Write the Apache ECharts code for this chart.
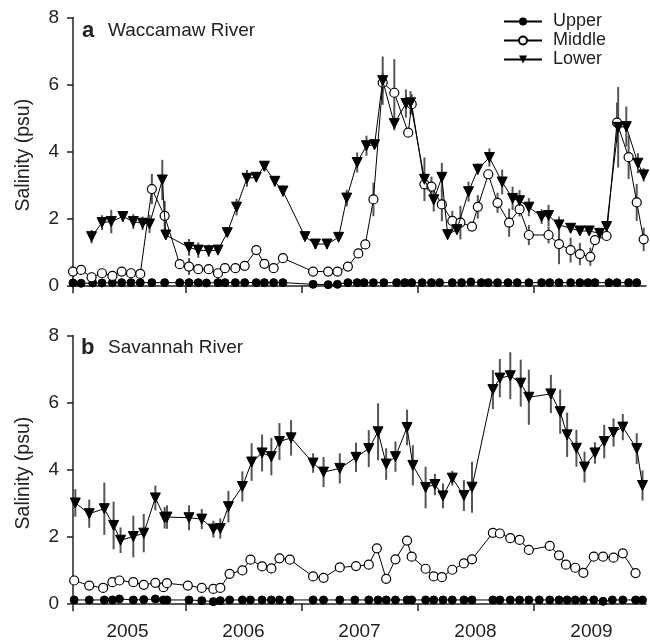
<!DOCTYPE html>
<html>
<head>
<meta charset="utf-8" />
<title>Salinity</title>
<script src="https://cdn.jsdelivr.net/npm/echarts@6/dist/echarts.min.js"></script>
<style>
  html, body { margin: 0; padding: 0; background: #fff; }
  #main { width: 650px; height: 642px; }
</style>
</head>
<body>
<div id="main"></div>
<script type="text/javascript">
// sampling dates as decimal years, salinity in psu, error = half bar length

// ---- a: Waccamaw River ----
var yrUpperA = [2005.03, 2005.10, 2005.20, 2005.28, 2005.37, 2005.45, 2005.53, 2005.61, 2005.71, 2005.82, 2005.95,
  2006.03, 2006.11, 2006.18, 2006.28, 2006.34, 2006.43, 2006.51, 2006.61, 2006.68, 2006.76, 2006.84,
  2007.10, 2007.23, 2007.31, 2007.40, 2007.48, 2007.54, 2007.62, 2007.71, 2007.82, 2007.89, 2007.95,
  2008.04, 2008.12, 2008.19, 2008.30, 2008.38, 2008.46, 2008.55, 2008.61, 2008.69, 2008.78, 2008.86, 2008.96,
  2009.07, 2009.14, 2009.22, 2009.32, 2009.40, 2009.47, 2009.53, 2009.65, 2009.72, 2009.82, 2009.89];
var upperA = [0.09, 0.08, 0.09, 0.09, 0.1, 0.1, 0.1, 0.1, 0.1, 0.1, 0.1,
  0.1, 0.1, 0.09, 0.1, 0.1, 0.1, 0.1, 0.1, 0.1, 0.1, 0.1,
  0.05, 0.04, 0.05, 0.1, 0.1, 0.1, 0.1, 0.1, 0.1, 0.1, 0.1,
  0.1, 0.1, 0.1, 0.1, 0.1, 0.12, 0.1, 0.1, 0.1, 0.1, 0.1, 0.1,
  0.1, 0.1, 0.1, 0.1, 0.1, 0.1, 0.1, 0.1, 0.1, 0.1, 0.1];

var yrMiddleA = [2005.03, 2005.10, 2005.19, 2005.28, 2005.37, 2005.45, 2005.53, 2005.61, 2005.71, 2005.82, 2005.95,
  2006.03, 2006.11, 2006.20, 2006.28, 2006.34, 2006.43, 2006.51, 2006.61, 2006.68, 2006.76, 2006.84,
  2007.10, 2007.23, 2007.31, 2007.40, 2007.49, 2007.55, 2007.62, 2007.70, 2007.80, 2007.92, 2007.95,
  2008.06, 2008.12, 2008.21, 2008.30, 2008.37, 2008.47, 2008.52, 2008.61, 2008.69, 2008.79, 2008.88, 2008.96,
  2009.13, 2009.22, 2009.32, 2009.40, 2009.49, 2009.53, 2009.63, 2009.72, 2009.82, 2009.89, 2009.95];
var middleA = [0.43, 0.48, 0.26, 0.38, 0.30, 0.43, 0.38, 0.36, 2.89, 2.09, 0.65,
  0.58, 0.50, 0.50, 0.38, 0.53, 0.53, 0.60, 1.07, 0.66, 0.53, 0.83,
  0.43, 0.43, 0.43, 0.58, 0.97, 1.24, 2.58, 6.06, 5.76, 4.57, 5.42,
  3.03, 2.96, 2.43, 1.94, 1.89, 1.77, 2.36, 3.33, 2.48, 1.89, 2.29, 1.52,
  1.52, 1.25, 1.07, 0.95, 0.87, 1.37, 1.49, 4.87, 3.84, 2.49, 1.39];
var errMiddleA = [0.05, 0.05, 0.05, 0.05, 0.05, 0.05, 0.05, 0.05, 0.45, 0.45, 0.12,
  0.25, 0.05, 0.05, 0.05, 0.05, 0.05, 0.05, 0.05, 0.05, 0.05, 0.05,
  0.05, 0.05, 0.05, 0.05, 0.05, 0.05, 0.5, 0.3, 1.0, 0.1, 0.3,
  0.15, 0.3, 0.5, 0.3, 0.5, 0.05, 0.35, 0.1, 0.3, 0.42, 0.22, 0.3,
  0.25, 0.6, 0.37, 0.33, 0.27, 0.1, 0.1, 0.6, 0.65, 0.55, 0.35];

var yrLowerA = [2005.19, 2005.28, 2005.36, 2005.46, 2005.55, 2005.63, 2005.69, 2005.80, 2005.83,
  2006.03, 2006.11, 2006.20, 2006.28, 2006.36, 2006.44, 2006.53, 2006.61, 2006.68, 2006.77, 2006.84,
  2007.03, 2007.12, 2007.22, 2007.32, 2007.39, 2007.48, 2007.56, 2007.63, 2007.70, 2007.80, 2007.90, 2007.94,
  2008.06, 2008.14, 2008.21, 2008.26, 2008.34, 2008.44, 2008.52, 2008.62, 2008.73, 2008.82, 2008.88, 2008.96,
  2009.07, 2009.13, 2009.22, 2009.32, 2009.40, 2009.48, 2009.57, 2009.63, 2009.73, 2009.80, 2009.90, 2009.95];
var lowerA = [1.47, 1.89, 1.92, 2.07, 1.92, 1.87, 1.85, 3.16, 1.52,
  1.15, 1.07, 1.05, 1.07, 1.59, 2.35, 3.21, 3.24, 3.57, 3.12, 2.83,
  1.47, 1.25, 1.25, 1.45, 2.62, 3.68, 4.18, 4.21, 6.12, 4.84, 5.44, 5.46,
  3.18, 2.57, 3.24, 1.53, 1.68, 2.81, 3.48, 3.83, 3.10, 2.61, 2.54, 2.35,
  2.07, 2.10, 1.82, 1.72, 1.64, 1.64, 1.57, 1.77, 4.73, 4.75, 3.66, 3.31];
var errLowerA = [0.2, 0.22, 0.35, 0.15, 0.22, 0.2, 0.27, 0.6, 0.1,
  0.25, 0.23, 0.18, 0.15, 0.1, 0.25, 0.25, 0.1, 0.15, 0.15, 0.17,
  0.1, 0.15, 0.15, 0.1, 0.25, 0.3, 0.3, 0.1, 0.72, 0.2, 0.42, 0.35,
  0.65, 0.35, 0.43, 0.1, 0.15, 0.3, 0.17, 0.27, 0.37, 0.35, 0.32, 0.27,
  0.22, 0.32, 0.25, 0.12, 0.12, 0.1, 0.1, 0.1, 1.2, 0.6, 0.3, 0.2];

// ---- b: Savannah River ----
var yrUpperB = [2005.04, 2005.17, 2005.30, 2005.37, 2005.43, 2005.55, 2005.64, 2005.74, 2005.81, 2005.84,
  2006.03, 2006.14, 2006.24, 2006.30, 2006.38, 2006.49, 2006.56, 2006.66, 2006.74, 2006.81, 2006.90,
  2007.10, 2007.19, 2007.33, 2007.46, 2007.58, 2007.66, 2007.73, 2007.81, 2007.91, 2007.95,
  2008.07, 2008.14, 2008.22, 2008.30, 2008.40, 2008.47, 2008.65, 2008.71, 2008.80, 2008.88, 2008.96,
  2009.05, 2009.14, 2009.22, 2009.29, 2009.36, 2009.43, 2009.52, 2009.60, 2009.68, 2009.77, 2009.88, 2009.94];
var upperB = [0.12, 0.12, 0.12, 0.12, 0.15, 0.12, 0.13, 0.15, 0.12, 0.12,
  0.12, 0.1, 0.07, 0.1, 0.12, 0.12, 0.12, 0.12, 0.12, 0.12, 0.12,
  0.12, 0.12, 0.12, 0.12, 0.12, 0.12, 0.12, 0.12, 0.12, 0.12,
  0.12, 0.12, 0.12, 0.12, 0.12, 0.12, 0.12, 0.12, 0.12, 0.12, 0.12,
  0.12, 0.12, 0.12, 0.12, 0.12, 0.12, 0.12, 0.08, 0.12, 0.12, 0.12, 0.12];

var yrMiddleB = [2005.04, 2005.17, 2005.29, 2005.37, 2005.43, 2005.55, 2005.64, 2005.74, 2005.81, 2005.84,
  2006.02, 2006.14, 2006.24, 2006.30, 2006.38, 2006.49, 2006.56, 2006.66, 2006.74, 2006.81, 2006.90,
  2007.10, 2007.19, 2007.33, 2007.47, 2007.58, 2007.65, 2007.73, 2007.81, 2007.91, 2007.95,
  2008.07, 2008.14, 2008.21, 2008.30, 2008.40, 2008.47, 2008.65, 2008.71, 2008.80, 2008.88, 2008.96,
  2009.14, 2009.22, 2009.28, 2009.36, 2009.43, 2009.52, 2009.60, 2009.69, 2009.77, 2009.88];
var middleB = [0.70, 0.55, 0.48, 0.65, 0.70, 0.65, 0.57, 0.63, 0.50, 0.62,
  0.55, 0.48, 0.45, 0.48, 0.90, 1.00, 1.32, 1.12, 1.06, 1.36, 1.32,
  0.82, 0.78, 1.09, 1.13, 1.17, 1.66, 0.75, 1.33, 1.89, 1.41,
  1.05, 0.82, 0.80, 1.02, 1.21, 1.33, 2.12, 2.10, 1.96, 1.91, 1.61,
  1.73, 1.45, 1.17, 1.08, 0.93, 1.41, 1.41, 1.38, 1.51, 0.92];
var errMiddleB = [0.05, 0.05, 0.05, 0.1, 0.05, 0.12, 0.1, 0.05, 0.05, 0.05,
  0.05, 0.05, 0.05, 0.05, 0.05, 0.05, 0.05, 0.05, 0.05, 0.05, 0.05,
  0.05, 0.05, 0.05, 0.05, 0.05, 0.05, 0.12, 0.05, 0.05, 0.05,
  0.05, 0.05, 0.05, 0.05, 0.05, 0.05, 0.05, 0.05, 0.05, 0.05, 0.15,
  0.05, 0.1, 0.1, 0.05, 0.05, 0.05, 0.05, 0.05, 0.05, 0.05];

var yrLowerB = [2005.05, 2005.17, 2005.30, 2005.38, 2005.44, 2005.55, 2005.64, 2005.74, 2005.82, 2005.84,
  2006.03, 2006.14, 2006.24, 2006.30, 2006.37, 2006.49, 2006.57, 2006.66, 2006.74, 2006.81, 2006.91,
  2007.10, 2007.19, 2007.33, 2007.47, 2007.58, 2007.66, 2007.73, 2007.81, 2007.91, 2007.96,
  2008.07, 2008.15, 2008.22, 2008.30, 2008.40, 2008.47, 2008.65, 2008.71, 2008.80, 2008.89, 2008.96,
  2009.15, 2009.23, 2009.29, 2009.37, 2009.44, 2009.53, 2009.61, 2009.69, 2009.77, 2009.89, 2009.94];
var lowerB = [3.01, 2.69, 2.84, 2.34, 1.90, 2.01, 2.11, 3.16, 2.57, 2.59,
  2.57, 2.53, 2.23, 2.25, 2.90, 3.50, 4.23, 4.50, 4.39, 4.84, 4.95,
  4.20, 3.93, 4.04, 4.37, 4.63, 5.13, 4.17, 4.39, 5.26, 4.13,
  3.47, 3.56, 3.22, 3.75, 3.23, 3.48, 6.39, 6.73, 6.80, 6.58, 6.16,
  6.26, 5.73, 5.04, 4.64, 4.08, 4.50, 4.84, 5.11, 5.27, 4.63, 3.53];
var errLowerB = [0.41, 0.42, 0.78, 0.71, 0.38, 0.62, 0.57, 0.37, 0.32, 0.35,
  0.37, 0.3, 0.25, 0.3, 0.47, 0.45, 0.56, 0.55, 0.56, 0.55, 0.53,
  0.29, 0.45, 0.45, 0.44, 0.55, 0.85, 0.47, 0.45, 0.53, 0.6,
  0.62, 0.32, 0.37, 0.22, 0.46, 0.76, 0.58, 0.57, 0.7, 0.7, 0.82,
  0.57, 0.66, 0.66, 0.55, 0.46, 0.32, 0.5, 0.42, 0.39, 0.46, 0.45];

var yearTicks = [2006, 2007, 2008, 2009];
var yearLabelPos = [2005.5, 2006.5, 2007.5, 2008.5, 2009.5];
var yTicks = [0, 2, 4, 6, 8];

var FONT = 'Liberation Sans, Arial, Helvetica, sans-serif';
var INK = '#222';

function pairs(xs, ys) {
    return xs.map(function (x, i) { return [x, ys[i]]; });
}

function errBars(xs, ys, es, idx) {
    return {
        type: 'custom',
        xAxisIndex: idx,
        yAxisIndex: idx,
        silent: true,
        z: 1,
        encode: { x: 0, y: [1, 2] },
        data: xs.map(function (x, i) { return [x, ys[i] - es[i], ys[i] + es[i]]; }),
        renderItem: function (params, api) {
            var lo = api.coord([api.value(0), api.value(1)]);
            var hi = api.coord([api.value(0), api.value(2)]);
            return {
                type: 'line',
                shape: { x1: lo[0], y1: lo[1], x2: hi[0], y2: hi[1] },
                style: { stroke: '#555', lineWidth: 2 }
            };
        }
    };
}

function upper(data, idx) {
    return {
        name: 'Upper', type: 'line', xAxisIndex: idx, yAxisIndex: idx, z: 3,
        data: data, symbol: 'circle', symbolSize: 8,
        itemStyle: { color: '#000', borderColor: '#000' },
        lineStyle: { color: '#000', width: 1 }
    };
}
function middle(data, idx) {
    return {
        name: 'Middle', type: 'line', xAxisIndex: idx, yAxisIndex: idx, z: 4,
        data: data, symbol: 'circle', symbolSize: 9,
        itemStyle: { color: '#fff', borderColor: '#000', borderWidth: 1.2 },
        lineStyle: { color: '#000', width: 1 }
    };
}
function lower(data, idx) {
    return {
        name: 'Lower', type: 'line', xAxisIndex: idx, yAxisIndex: idx, z: 5,
        data: data, symbol: 'triangle', symbolRotate: 180, symbolSize: 10,
        itemStyle: { color: '#000', borderColor: '#000' },
        lineStyle: { color: '#000', width: 1 }
    };
}

function xAxis(idx, withLabels) {
    return {
        type: 'value', gridIndex: idx, min: 2005.03, max: 2009.97,
        axisLine: { lineStyle: { color: INK, width: 1.5 } },
        axisTick: { show: true, customValues: yearTicks, length: 7, lineStyle: { color: INK, width: 1.5 } },
        axisLabel: {
            show: withLabels, customValues: yearLabelPos, margin: 12,
            fontSize: 19, fontFamily: FONT, color: INK,
            formatter: function (v) { return String(Math.floor(v)); }
        },
        splitLine: { show: false }
    };
}
function yAxis(idx) {
    return {
        type: 'value', gridIndex: idx, min: -0.2, max: 8,
        name: 'Salinity (psu)', nameLocation: 'middle', nameGap: 39,
        nameTextStyle: { fontSize: 19.5, fontFamily: FONT, color: INK },
        axisLine: { show: true, lineStyle: { color: INK, width: 1.5 } },
        axisTick: { show: true, customValues: yTicks, length: 6, lineStyle: { color: INK, width: 1.5 } },
        axisLabel: { customValues: yTicks, margin: 14, fontSize: 19, fontFamily: FONT, color: INK },
        splitLine: { show: false }
    };
}

var myChart = echarts.init(document.getElementById('main'), null, { renderer: 'canvas' });

var option = {
    animation: false,
    backgroundColor: '#fff',
    textStyle: { fontFamily: FONT },
    title: [
        {
            text: '{b|a}Waccamaw River', left: 77, top: 15,
            textStyle: { fontSize: 19, fontWeight: 'normal', fontFamily: FONT, color: INK,
                rich: { b: { fontSize: 22, fontWeight: 'bold', fontFamily: FONT, color: INK, width: 26 } } }
        },
        {
            text: '{b|b}Savannah River', left: 76, top: 332,
            textStyle: { fontSize: 19, fontWeight: 'normal', fontFamily: FONT, color: INK,
                rich: { b: { fontSize: 22, fontWeight: 'bold', fontFamily: FONT, color: INK, width: 27 } } }
        }
    ],
    legend: {
        data: ['Upper', 'Middle', 'Lower'],
        orient: 'vertical', left: 498, top: 7,
        itemWidth: 38, itemHeight: 10, itemGap: 0,
        textStyle: { fontSize: 18, fontFamily: FONT, color: INK, lineHeight: 19, padding: [0, 0, 0, 6] }
    },
    grid: [
        { left: 73, right: 4, top: 17.6, height: 275.1 },
        { left: 73, right: 4, top: 335.5, height: 275.2 }
    ],
    xAxis: [xAxis(0, false), xAxis(1, true)],
    yAxis: [yAxis(0), yAxis(1)],
    series: [
        errBars(yrMiddleA, middleA, errMiddleA, 0),
        errBars(yrLowerA, lowerA, errLowerA, 0),
        upper(pairs(yrUpperA, upperA), 0),
        middle(pairs(yrMiddleA, middleA), 0),
        lower(pairs(yrLowerA, lowerA), 0),
        errBars(yrMiddleB, middleB, errMiddleB, 1),
        errBars(yrLowerB, lowerB, errLowerB, 1),
        upper(pairs(yrUpperB, upperB), 1),
        middle(pairs(yrMiddleB, middleB), 1),
        lower(pairs(yrLowerB, lowerB), 1)
    ]
};

myChart.setOption(option);
</script>
</body>
</html>
